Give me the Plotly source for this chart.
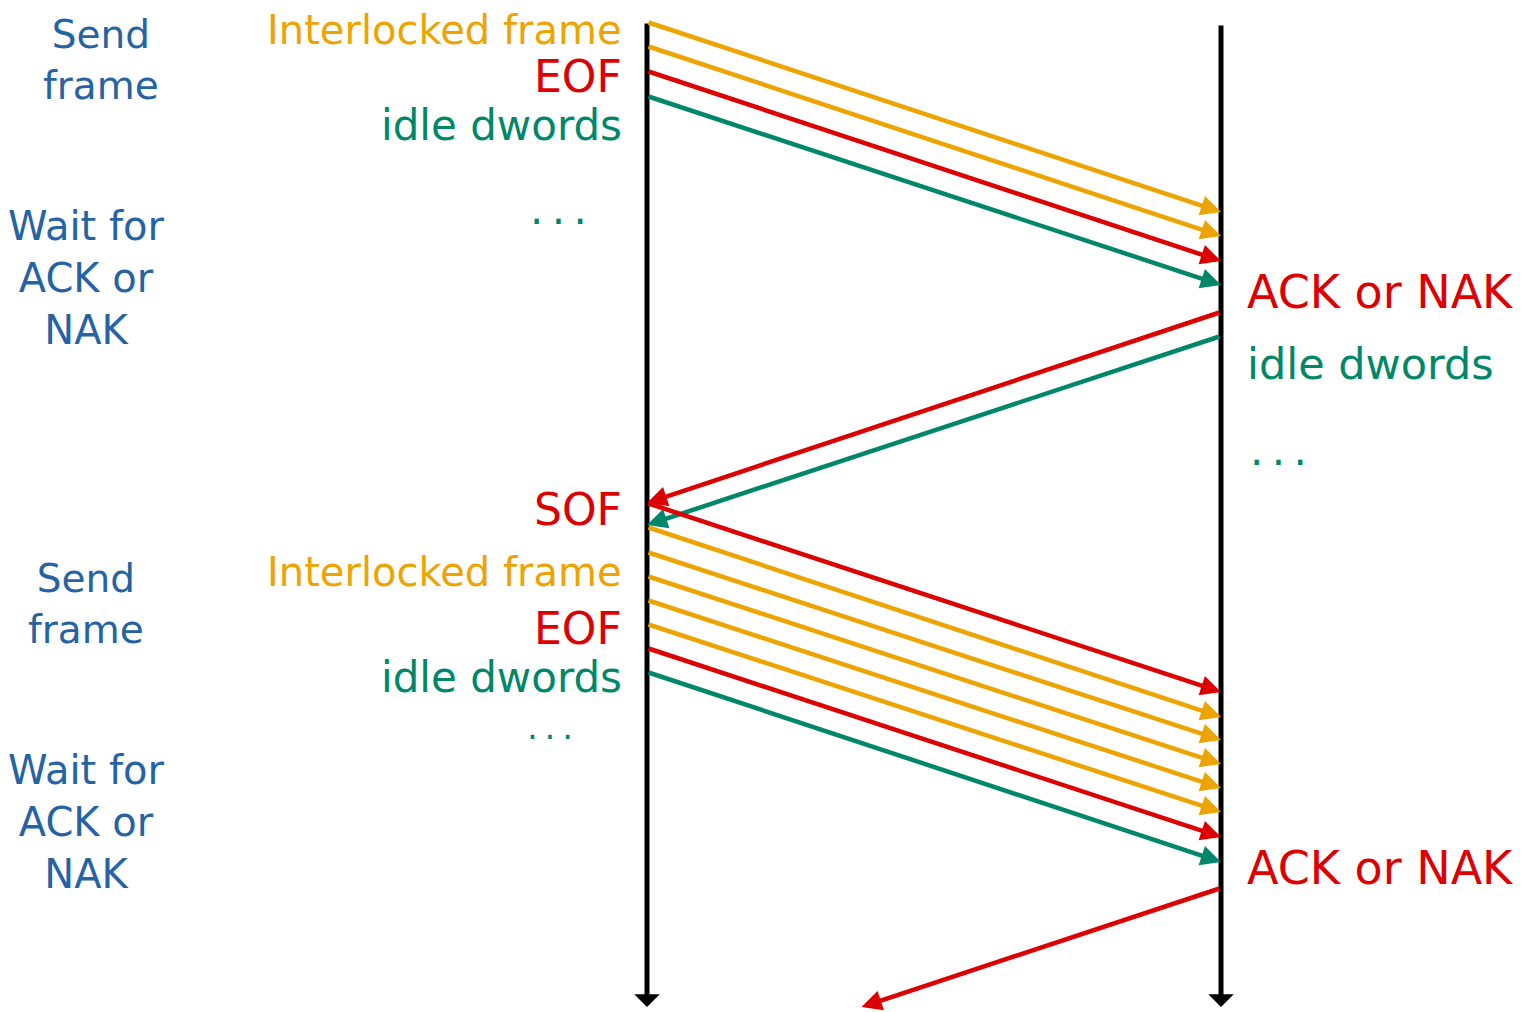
import plotly.graph_objects as go

# times (read down the page) at which each message leaves and reaches a station
out1_send = [22, 46, 71, 96]
out1_recv = [212, 236, 261, 285]
out1_kind = ['frame', 'frame', 'eof', 'idle']

back1_send = [312, 336]
back1_recv = [503, 525]
back1_kind = ['ack', 'idle']

out2_send = [503, 527, 552, 576, 600, 624, 648, 672]
out2_recv = [692, 717, 740, 764, 788, 812, 837, 862]
out2_kind = ['sof', 'frame', 'frame', 'frame', 'frame', 'frame', 'eof', 'idle']

back2_send = [888]
back2_recv = [1078]
back2_kind = ['ack']

line_start = [22, 24]   # left, right station
t_end = 1007

LEFT_X, RIGHT_X = 647, 1221
W, H = 1524, 1012

ORANGE = '#EDA400'
RED = '#DC0000'
GREEN = '#00876A'
BLUE = '#2563A3'
FONT = 'DejaVu Sans'
DOTS = '.&#8201;.&#8201;.'

kind_color = {'frame': ORANGE, 'eof': RED, 'sof': RED, 'ack': RED, 'idle': GREEN}

fig = go.Figure()
ann = []

# station time lines
for x, t0 in zip([LEFT_X, RIGHT_X], line_start):
    ann.append(dict(x=x, y=t_end, ax=x, ay=t0, xref='x', yref='y', axref='x', ayref='y',
                    showarrow=True, arrowhead=1, arrowsize=0.85, arrowwidth=5,
                    arrowcolor='black', text=''))


def add_messages(send, recv, kinds, x_from, x_to):
    for ts, tr, k in zip(send, recv, kinds):
        hx, hy = x_to, tr
        if tr > t_end:
            # message still in flight when the diagram ends
            frac = (t_end - ts) / (tr - ts)
            hx, hy = x_from + frac * (x_to - x_from), t_end
        ann.append(dict(x=hx, y=hy, ax=x_from, ay=ts, xref='x', yref='y', axref='x', ayref='y',
                        showarrow=True, arrowhead=2, arrowsize=0.9, arrowwidth=4.5,
                        arrowcolor=kind_color[k], text=''))


add_messages(out1_send, out1_recv, out1_kind, LEFT_X, RIGHT_X)
add_messages(back1_send, back1_recv, back1_kind, RIGHT_X, LEFT_X)
add_messages(out2_send, out2_recv, out2_kind, LEFT_X, RIGHT_X)
add_messages(back2_send, back2_recv, back2_kind, RIGHT_X, LEFT_X)


def label(text, x, y, color, anchor, size=42):
    ann.append(dict(x=x, y=y, xref='x', yref='y', text=text, showarrow=False,
                    xanchor=anchor, yanchor='middle', align='center',
                    font=dict(family=FONT, size=size, color=color)))


# left side
label('Send<br>frame', 101, 60, BLUE, 'center', 39)
label('Interlocked frame', 624, 30, ORANGE, 'right', 40)
label('EOF', 624, 76, RED, 'right', 44)
label('idle dwords', 624, 125, GREEN, 'right')
label(DOTS, 558, 209, GREEN, 'center')
label('Wait for<br>ACK or<br>NAK', 86, 278, BLUE, 'center', 40)

label('SOF', 624, 509, RED, 'right', 44)
label('Send<br>frame', 86, 604, BLUE, 'center', 39)
label('Interlocked frame', 624, 572, ORANGE, 'right', 40)
label('EOF', 624, 628, RED, 'right', 44)
label('idle dwords', 624, 677, GREEN, 'right')
label(DOTS, 550, 727, GREEN, 'center', 34)
label('Wait for<br>ACK or<br>NAK', 86, 822, BLUE, 'center', 40)

# right side
label('ACK or NAK', 1245, 292, RED, 'left', 46)
label('idle dwords', 1245, 364, GREEN, 'left', 43)
label(DOTS, 1278, 450, GREEN, 'center')
label('ACK or NAK', 1245, 868, RED, 'left', 46)

fig.update_layout(
    width=W, height=H,
    margin=dict(l=0, r=0, t=0, b=0),
    paper_bgcolor='white', plot_bgcolor='white',
    xaxis=dict(range=[0, W], visible=False, fixedrange=True),
    yaxis=dict(range=[H, 0], visible=False, fixedrange=True),
    showlegend=False,
    annotations=ann,
)

fig.write_html("out.html", config={'displayModeBar': False},
               post_script="document.body.style.margin='0';")
